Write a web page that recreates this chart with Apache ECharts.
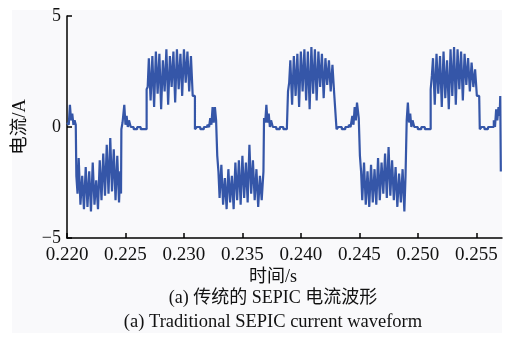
<!DOCTYPE html>
<html>
<head>
<meta charset="utf-8">
<script src="https://cdn.jsdelivr.net/npm/echarts@6/dist/echarts.min.js"></script>
<style>
html,body{margin:0;padding:0;background:#fff;}
#chart{width:512px;height:338px;}
</style>
</head>
<body>
<div id="chart"></div>
<script>
// time (s)
var time = [
0.22000,0.22015,0.22025,0.22035,0.22045,0.22055,0.22065,0.22075,0.22080,
0.22090,0.22100,0.22115,0.22130,0.22145,0.22160,0.22175,0.22190,0.22205,0.22220,0.22235,0.22250,0.22265,0.22280,0.22295,0.22310,0.22325,0.22340,0.22355,0.22370,0.22385,0.22400,0.22415,0.22430,0.22445,0.22455,0.22462,0.22465,
0.22475,0.22490,0.22500,0.22510,0.22520,0.22530,0.22545,0.22570,0.22600,0.22630,0.22660,0.22681,
0.22690,0.22700,0.22715,0.22730,0.22745,0.22760,0.22775,0.22790,0.22805,0.22820,0.22835,0.22850,0.22865,0.22880,0.22895,0.22910,0.22925,0.22940,0.22955,0.22970,0.22985,0.23000,0.23015,0.23030,0.23045,0.23060,0.23075,0.23094,
0.23110,0.23140,0.23170,0.23200,0.23215,0.23225,0.23235,0.23245,0.23255,0.23265,0.23275,0.23285,
0.23295,0.23305,0.23320,0.23335,0.23350,0.23365,0.23380,0.23395,0.23410,0.23425,0.23440,0.23455,0.23470,0.23485,0.23500,0.23515,0.23530,0.23545,0.23560,0.23575,0.23590,0.23605,0.23620,0.23635,0.23650,0.23665,0.23680,0.23685,
0.23695,0.23705,0.23715,0.23725,0.23735,0.23745,0.23760,0.23790,0.23820,0.23850,0.23880,0.23890,
0.23900,0.23910,0.23925,0.23940,0.23955,0.23970,0.23985,0.24000,0.24015,0.24030,0.24045,0.24060,0.24075,0.24090,0.24105,0.24120,0.24135,0.24150,0.24165,0.24180,0.24195,0.24210,0.24225,0.24240,0.24255,0.24270,0.24285,0.24300,0.24305,
0.24320,0.24350,0.24380,0.24410,0.24425,0.24440,0.24450,0.24460,0.24470,0.24480,0.24495,0.24505,
0.24515,0.24525,0.24540,0.24555,0.24570,0.24585,0.24600,0.24615,0.24630,0.24645,0.24660,0.24675,0.24690,0.24705,0.24720,0.24735,0.24750,0.24765,0.24780,0.24795,0.24810,0.24825,0.24840,0.24855,0.24870,0.24885,0.24895,0.24905,
0.24915,0.24925,0.24935,0.24945,0.24955,0.24970,0.25000,0.25030,0.25060,0.25090,0.25110,
0.25120,0.25130,0.25145,0.25160,0.25175,0.25190,0.25205,0.25220,0.25235,0.25250,0.25265,0.25280,0.25295,0.25310,0.25325,0.25340,0.25355,0.25370,0.25385,0.25400,0.25415,0.25430,0.25445,0.25460,0.25475,0.25490,0.25505,0.25525,0.25530,
0.25545,0.25570,0.25600,0.25630,0.25650,0.25660,0.25670,0.25680,0.25690,0.25700,0.25705,0.25710
];
// current (A)
var current = [
0.2,0.1,1.0,0.3,0.6,0.1,0.3,0.1,-2.2,
-3.0,-1.4,-3.5,-2.2,-3.7,-1.8,-3.6,-2.0,-3.8,-1.6,-3.5,-2.4,-3.7,-1.5,-3.3,-1.2,-3.1,-0.8,-3.0,-0.5,-2.9,-1.0,-3.3,-1.3,-3.4,-2.0,-3.0,-0.1,
0.2,1.0,0.1,0.5,0.0,0.3,0.0,-0.1,0.0,-0.1,-0.1,1.7,
1.8,3.1,1.2,3.2,0.9,3.4,1.5,3.3,0.8,3.0,1.6,3.5,1.0,3.2,1.8,3.4,1.1,3.5,1.7,3.3,1.4,3.5,2.0,3.4,1.6,3.2,1.4,-0.1,
0.0,-0.1,0.0,0.1,0.0,0.4,0.1,0.9,0.2,0.9,0.3,-1.3,
-2.0,-3.2,-1.7,-3.5,-2.3,-3.7,-1.9,-3.4,-2.2,-3.7,-1.6,-3.3,-1.5,-3.5,-1.3,-3.2,-1.6,-3.4,-0.8,-3.0,-1.5,-3.3,-1.9,-3.6,-2.2,-3.3,-2.0,0.4,
0.2,1.0,0.2,0.6,0.0,0.3,0.0,-0.1,0.0,-0.1,-0.1,1.6,
2.0,3.0,1.0,3.2,1.4,3.3,0.9,3.4,1.6,3.5,1.2,3.4,0.8,3.6,1.5,3.5,1.2,3.4,1.8,3.3,1.3,3.1,1.9,3.0,1.6,2.8,1.5,1.5,-0.1,
0.0,-0.1,0.0,0.1,0.0,0.5,0.1,0.9,0.3,1.1,0.4,-1.3,
-2.0,-3.3,-1.6,-3.5,-2.0,-3.6,-1.7,-3.4,-1.9,-3.5,-1.4,-3.3,-1.6,-3.0,-1.2,-3.2,-0.9,-3.1,-1.5,-3.3,-1.8,-3.6,-2.1,-3.4,-1.9,-3.8,-2.2,0.3,
1.1,0.2,0.6,0.0,0.3,0.0,-0.1,0.0,-0.1,-0.1,1.7,
2.3,3.1,1.0,3.3,1.5,3.2,0.9,3.4,1.3,3.0,0.8,3.5,1.4,3.6,1.0,3.5,1.7,3.4,1.2,3.3,1.9,3.1,1.6,2.9,1.8,2.6,1.4,1.4,-0.1,
0.0,-0.1,0.0,0.0,0.3,0.0,0.8,0.3,0.9,0.5,1.4,-2.0
];
var xTicks = [0.220,0.225,0.230,0.235,0.240,0.245,0.250,0.255];
var yTicks = [-5,0,5];

var serif = '"Liberation Serif","Times New Roman",serif';
var cjk = '"Liberation Serif","Noto Sans CJK SC",serif';

var chart = echarts.init(document.getElementById('chart'));
chart.setOption({
  animation:false,
  backgroundColor:'#ffffff',
  graphic:[
    {type:'rect',shape:{x:12,y:10,width:490,height:323},style:{fill:'#f9f9fb'},z:-10,silent:true},
    {type:'text',x:273,y:277,style:{text:'时间/s',font:'18px '+cjk,fill:'#111',align:'center',verticalAlign:'middle'}},
    {type:'text',x:273,y:298,style:{text:'(a) 传统的 SEPIC 电流波形',font:'18px '+cjk,fill:'#111',align:'center',verticalAlign:'middle'}},
    {type:'text',x:273,y:322,style:{text:'(a) Traditional SEPIC current waveform',font:'18.5px '+serif,fill:'#111',align:'center',verticalAlign:'middle'}}
  ],
  grid:{left:67,right:10,top:16,bottom:100,containLabel:false},
  xAxis:{
    type:'value',min:0.220,max:0.2572,interval:0.005,
    axisLine:{show:true,onZero:false,lineStyle:{color:'#000',width:1.5}},
    axisTick:{show:true,inside:true,length:5,lineStyle:{color:'#000',width:1.5},customValues:xTicks},
    axisLabel:{customValues:xTicks,formatter:function(v){return v.toFixed(3);},color:'#111',fontFamily:serif,fontSize:19,margin:8},
    splitLine:{show:false}
  },
  yAxis:{
    type:'value',min:-5,max:5,interval:5,
    name:'电流/A',nameLocation:'middle',nameGap:38,nameRotate:90,
    nameTextStyle:{fontFamily:cjk,fontSize:18.5,color:'#111'},
    axisLine:{show:true,onZero:false,lineStyle:{color:'#000',width:1.5}},
    axisTick:{show:true,inside:true,length:5,lineStyle:{color:'#000',width:1.5},customValues:yTicks},
    axisLabel:{customValues:yTicks,formatter:function(v){return v<0?'\u2212'+Math.abs(v):String(v);},color:'#111',fontFamily:serif,fontSize:18,margin:6},
    splitLine:{show:false}
  },
  series:[{
    type:'line',
    data:time.map(function(t,i){return [t,current[i]];}),
    step:'end',
    showSymbol:false,
    lineStyle:{color:'#3556a8',width:2.2},
    z:3
  }]
});
</script>
</body>
</html>
